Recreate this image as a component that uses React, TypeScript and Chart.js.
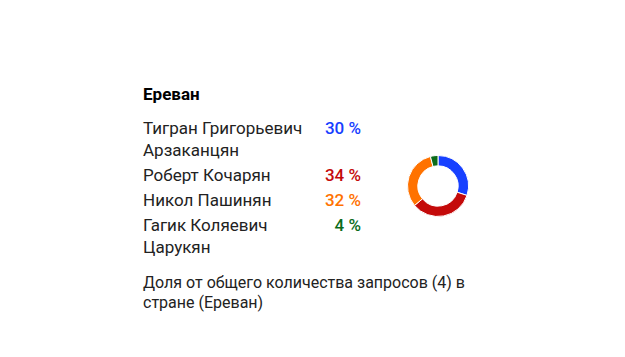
import React, { useEffect, useRef } from "react";
import { Chart, registerables } from "chart.js";

Chart.register(...registerables);

const title = "Ереван";
const names = ["Тигран Григорьевич Арзаканцян", "Роберт Кочарян", "Никол Пашинян", "Гагик Коляевич Царукян"];
const shares = [30, 34, 32, 4];
const colors = ["#1740ff", "#c40a0a", "#ff7200", "#0b6b1a"];
const footnote = "Доля от общего количества запросов (4) в стране (Ереван)";

const font = "Roboto, 'Noto Sans', sans-serif";

export default function App() {
  const ref = useRef<HTMLCanvasElement | null>(null);
  useEffect(() => {
    if (!ref.current) return;
    const chart = new Chart(ref.current, {
      type: "doughnut",
      data: {
        labels: names,
        datasets: [
          {
            data: shares,
            backgroundColor: colors,
            borderColor: "#ffffff",
            borderWidth: 1,
          },
        ],
      },
      options: {
        responsive: false,
        animation: false,
        cutout: "66%",
        layout: { padding: 0 },
        plugins: { legend: { display: false }, tooltip: { enabled: false } },
      },
    });
    return () => chart.destroy();
  }, []);

  return (
    <div style={{ position: "absolute", left: 0, top: 0, width: 625, height: 357, background: "#fff", fontFamily: font, color: "#202124" }}>
      <div style={{ position: "absolute", left: 143, top: 83, fontSize: 17, fontWeight: 700, lineHeight: "22px", color: "#000" }}>{title}</div>
      <div style={{ position: "absolute", left: 143, top: 116.5, width: 220 }}>
        {names.map((n, i) => (
          <div key={n} style={{ display: "flex", marginBottom: 3 }}>
            <div style={{ width: 172, fontSize: 17, lineHeight: "22px", color: "#222" }}>{n}</div>
            <div style={{ width: 46, textAlign: "right", fontSize: 17, lineHeight: "22px", fontWeight: 500, color: colors[i] }}>
              {shares[i]} %
            </div>
          </div>
        ))}
      </div>
      <div style={{ position: "absolute", left: 143, top: 272.5, width: 345, fontSize: 16, lineHeight: "20px", color: "#222" }}>{footnote}</div>
      <canvas ref={ref} width={62} height={62} style={{ position: "absolute", left: 407, top: 155, width: 62, height: 62 }} />
    </div>
  );
}
